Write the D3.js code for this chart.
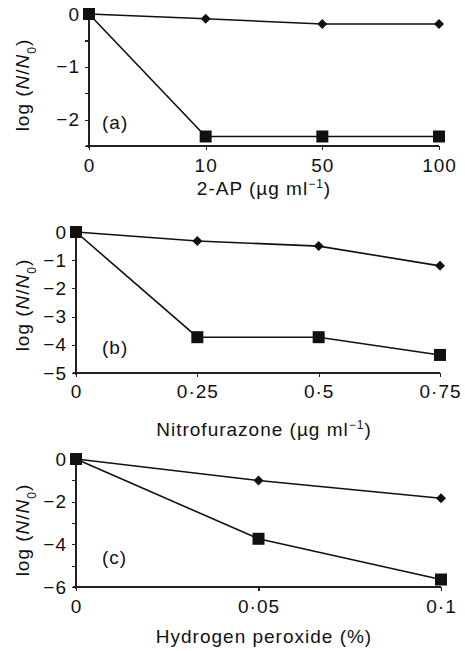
<!DOCTYPE html>
<meta charset="utf-8">
<style>
body { margin: 0; background: #fff; }
svg text { font-family: "Liberation Sans", Arial, sans-serif; fill: #111; font-size: 19px; letter-spacing: 1px; }
.axis path, .axis line { stroke: #222; stroke-width: 1.2px; shape-rendering: crispEdges; }
.axis text { font-size: 19px; letter-spacing: 1px; }
.series { fill: none; stroke: #111; stroke-width: 1.6px; }
</style>
<script src="https://cdn.jsdelivr.net/npm/d3@7"></script>
<body>
<svg id="chart" width="465" height="651"></svg>
<script>
// panel (a): 2-AP, categorical doses
var dosesA = ["0", "10", "50", "100"];
var diamondA = [0, -0.09, -0.19, -0.19];
var squareA = [0, -2.32, -2.32, -2.32];

// panel (b): nitrofurazone
var dosesB = [0, 0.25, 0.5, 0.75];
var diamondB = [0, -0.32, -0.5, -1.2];
var squareB = [0, -3.73, -3.73, -4.36];

// panel (c): hydrogen peroxide
var dosesC = [0, 0.05, 0.1];
var diamondC = [0, -1.01, -1.84];
var squareC = [0, -3.74, -5.65];

var svg = d3.select("#chart");

function minus(v) {
    return v < 0 ? "\u2212" + Math.abs(v) : String(v);
}
function dotted(v) {
    return String(v).replace(".", "\u00b7");
}

function drawPanel(p) {
    var g = svg.append("g");
    var x;
    if (p.point) {
        x = d3.scalePoint().domain(p.doses).range([p.left, p.right]);
    } else {
        x = d3.scaleLinear().domain([0, d3.max(p.doses)]).range([p.left, p.right]);
    }
    var y = d3.scaleLinear().domain([0, p.ymin]).range([p.top, p.bottom]);

    // y axis with major labelled ticks and minor blank ones
    g.append("g").attr("class", "axis")
        .attr("transform", "translate(" + p.left + ",0)")
        .call(d3.axisLeft(y).tickValues(p.minor).tickSize(4).tickFormat(""))
        .select(".domain").remove();
    var ya = g.append("g").attr("class", "axis")
        .attr("transform", "translate(" + p.left + ",0)")
        .call(d3.axisLeft(y).tickValues(p.major).tickSize(4).tickPadding(5)
            .tickFormat(minus));
    ya.select(".domain").attr("d", "M0," + p.top + "V" + (p.bottom + 2));

    // x axis
    var xa = g.append("g").attr("class", "axis")
        .attr("transform", "translate(0," + p.bottom + ")")
        .call(d3.axisBottom(x).tickValues(p.doses).tickSize(4).tickPadding(8)
            .tickFormat(dotted));
    xa.select(".domain").attr("d", "M" + (p.left - 3) + ",0H" + p.right);
    xa.selectAll("text").attr("dy", null).attr("y", p.tickBase - p.bottom);

    var line = d3.line()
        .x(function(d, i) { return x(p.doses[i]); })
        .y(function(d) { return y(d); });

    g.append("path").attr("class", "series").attr("d", line(p.diamond));
    g.append("path").attr("class", "series").attr("d", line(p.square));

    g.selectAll(".diamond").data(p.diamond).enter().append("path")
        .attr("class", "diamond")
        .attr("d", "M0,-5L5,0L0,5L-5,0Z")
        .attr("fill", "#111")
        .attr("transform", function(d, i) { return "translate(" + x(p.doses[i]) + "," + y(d) + ")"; });

    g.selectAll(".square").data(p.square).enter().append("rect")
        .attr("class", "square")
        .attr("x", function(d, i) { return x(p.doses[i]) - 6; })
        .attr("y", function(d) { return y(d) - 6; })
        .attr("width", 12).attr("height", 12)
        .attr("fill", "#111");

    // y label: log (N/N0)
    var yl = g.append("text")
        .attr("transform", "translate(29," + p.ylabelY + ") rotate(-90)")
        .attr("text-anchor", "middle");
    yl.append("tspan").text("log (");
    yl.append("tspan").style("font-style", "italic").text("N");
    yl.append("tspan").text("/");
    yl.append("tspan").style("font-style", "italic").text("N");
    yl.append("tspan").attr("baseline-shift", "sub").style("font-size", "12px").text("0");
    yl.append("tspan").text(")");

    // x label
    var xl = g.append("text")
        .attr("x", p.xlabelX).attr("y", p.xlabelBase)
        .attr("text-anchor", "middle");
    xl.append("tspan").text(p.xlabel);
    if (p.unit) {
        xl.append("tspan").text(" (\u00b5g ml");
        xl.append("tspan").attr("baseline-shift", "super").style("font-size", "12px").text("\u22121");
        xl.append("tspan").text(")");
    }

    g.append("text").attr("x", 102).attr("y", p.letterBase).text(p.letter);
}

drawPanel({
    point: true, doses: dosesA, diamond: diamondA, square: squareA,
    left: 89, right: 439, top: 14, bottom: 146, ymin: -2.5,
    major: [0, -1, -2], minor: [-0.5, -1.5, -2.5],
    tickBase: 172, xlabel: "2-AP", unit: true, xlabelX: 264, xlabelBase: 195,
    ylabelY: 85, letter: "(a)", letterBase: 129
});

drawPanel({
    point: false, doses: dosesB, diamond: diamondB, square: squareB,
    left: 76, right: 440, top: 232, bottom: 373, ymin: -5,
    major: [0, -1, -2, -3, -4, -5], minor: [],
    tickBase: 398, xlabel: "Nitrofurazone", unit: true, xlabelX: 264, xlabelBase: 436,
    ylabelY: 305, letter: "(b)", letterBase: 354
});

drawPanel({
    point: false, doses: dosesC, diamond: diamondC, square: squareC,
    left: 76, right: 441, top: 459, bottom: 587, ymin: -6,
    major: [0, -2, -4, -6], minor: [-1, -3, -5],
    tickBase: 613, xlabel: "Hydrogen peroxide (%)", unit: false, xlabelX: 264, xlabelBase: 643,
    ylabelY: 530, letter: "(c)", letterBase: 564
});
</script>
</body>
